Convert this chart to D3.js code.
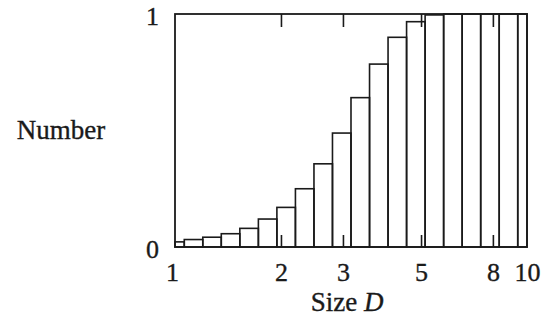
<!DOCTYPE html>
<html>
<head>
<meta charset="utf-8">
<script src="https://cdn.jsdelivr.net/npm/d3@7"></script>
<style>
  html, body { margin: 0; padding: 0; background: #ffffff; }
  svg { display: block; }
  text { font-family: "Liberation Serif", "DejaVu Serif", serif; fill: #1a1a1a; stroke: #1a1a1a; stroke-width: 0.35px; }
</style>
</head>
<body>
<svg id="chart" width="545" height="324"></svg>
<script>
// Bin centres (Size D, log-spaced) and the bar heights
const sizeD = [1.000, 1.129, 1.274, 1.438, 1.624, 1.833, 2.069, 2.336, 2.637, 2.976,
               3.360, 3.793, 4.281, 4.833, 5.456, 6.158, 6.952, 7.848, 8.859, 10.000];
const number = [0.022, 0.032, 0.042, 0.057, 0.080, 0.120, 0.170, 0.250, 0.357, 0.489,
                0.641, 0.785, 0.900, 0.967, 0.996, 1.000, 1.000, 1.000, 1.000, 1.000];
const xTicks = [1, 2, 3, 5, 8, 10];
const xInnerTicks = [2, 3, 5, 8];
const yTicks = [0, 1];
const xTitle = "Size ";
const xTitleItalic = "D";
const yTitle = "Number";

const svg = d3.select("#chart");
const pL = 175, pR = 527, pT = 14, pB = 247;
const ink = "#1a1a1a";

const x = d3.scaleLog().domain([1, 10]).range([pL, pR]);
const y = d3.scaleLinear().domain([0, 1]).range([pB, pT]);

// bar edges: geometric midpoints between neighbouring centres, clipped to the domain
const bars = sizeD.map((c, i) => {
  const lo = i === 0 ? 1 : Math.sqrt(sizeD[i - 1] * c);
  const hi = i === sizeD.length - 1 ? 10 : Math.sqrt(c * sizeD[i + 1]);
  return { lo, hi, v: number[i] };
});

svg.append("g").selectAll("rect").data(bars).join("rect")
  .attr("x", d => x(d.lo))
  .attr("width", d => x(d.hi) - x(d.lo))
  .attr("y", d => y(d.v))
  .attr("height", d => y(0) - y(d.v))
  .attr("fill", "none")
  .attr("stroke", ink)
  .attr("stroke-width", 1.6);

// frame
svg.append("rect")
  .attr("x", pL).attr("y", pT)
  .attr("width", pR - pL).attr("height", pB - pT)
  .attr("fill", "none").attr("stroke", ink).attr("stroke-width", 1.8);

// inner ticks (bottom, pointing up)
const gb = svg.append("g").attr("transform", `translate(0,${pB})`)
  .call(d3.axisBottom(x).tickValues(xInnerTicks).tickSize(-12).tickFormat(""));
gb.select(".domain").remove();
gb.selectAll("line").attr("stroke", ink).attr("stroke-width", 1.6);

// inner ticks (top, pointing down)
const gt = svg.append("g").attr("transform", `translate(0,${pT})`)
  .call(d3.axisTop(x).tickValues(xInnerTicks).tickSize(-13).tickFormat(""));
gt.select(".domain").remove();
gt.selectAll("line").attr("stroke", ink).attr("stroke-width", 1.6);

// x tick labels
const gxl = svg.append("g").attr("transform", `translate(0,${pB})`)
  .call(d3.axisBottom(x).tickValues(xTicks).tickSize(0).tickPadding(16).tickFormat(d3.format("d")));
gxl.select(".domain").remove();
gxl.selectAll("text").style("font-size", "26px").style("font-family", "Liberation Serif").attr("fill", ink);
gxl.selectAll(".tick").filter(d => d === 1).select("text").attr("dx", -3);

// y tick labels
const gyl = svg.append("g").attr("transform", `translate(${pL},0)`)
  .call(d3.axisLeft(y).tickValues(yTicks).tickSize(0).tickPadding(16).tickFormat(d3.format("d")));
gyl.select(".domain").remove();
gyl.selectAll("text").style("font-size", "26px").style("font-family", "Liberation Serif").attr("fill", ink)
  .attr("dy", "0.4em");

// axis titles
const xt = svg.append("text")
  .attr("x", (pL + pR) / 2 - 4).attr("y", 311)
  .attr("text-anchor", "middle")
  .style("font-size", "27px");
xt.append("tspan").text(xTitle);
xt.append("tspan").style("font-style", "italic").text(xTitleItalic);

svg.append("text")
  .attr("x", 61).attr("y", 139)
  .attr("text-anchor", "middle")
  .style("font-size", "27px")
  .text(yTitle);
</script>
</body>
</html>
